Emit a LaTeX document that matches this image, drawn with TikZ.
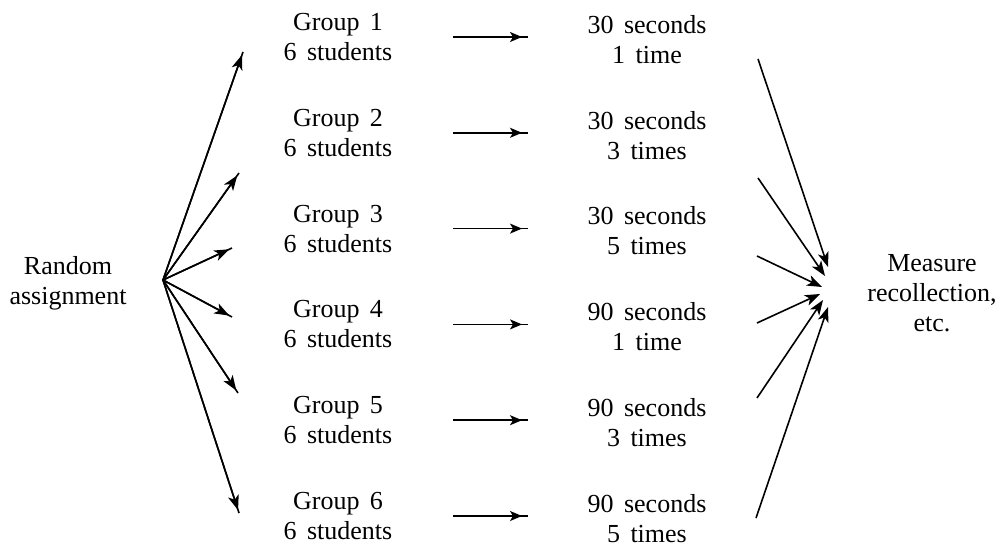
\documentclass[tikz,border=0pt]{standalone}
\usepackage{fontspec}
\setmainfont{Liberation Serif}[WordSpace=1.6]
\usetikzlibrary{arrows.meta}
\begin{document}
\begin{tikzpicture}[x=1pt,y=-1pt,
  lbl/.style={align=center, font=\fontsize{26}{30}\selectfont, inner sep=0pt},
  fanline/.style={line width=1.6pt},
  fanarr/.style={-{Stealth[length=15pt,width=11pt,inset=4pt]}, line width=1.6pt, shorten >=3pt},
  hline/.style={line width=1.5pt},
  harr/.style={-{Stealth[length=12pt,width=10pt,inset=3pt]}, line width=1.5pt, shorten >=6pt}]
\useasboundingbox (0,0) rectangle (1000,548);

% left and right labels
\node[lbl] (ra) at (68,283) {Random\\assignment};
\node[lbl] (mr) at (932,293) {Measure\\recollection,\\etc.};

% groups and treatments
\foreach \i/\tm [evaluate=\i as \yy using {37+95.8*(\i-1)}] in
  {1/{30 seconds\\1 time}, 2/{30 seconds\\3 times}, 3/{30 seconds\\5 times},
   4/{90 seconds\\1 time}, 5/{90 seconds\\3 times}, 6/{90 seconds\\5 times}} {
  \node[lbl] (g\i) at (338,\yy) {Group \i\\6 students};
  \node[lbl] (t\i) at (647,\yy+2.5) {\tm};
  \coordinate (hs\i) at (453,\yy);
  \coordinate (he\i) at (528,\yy);
  \draw[hline] (hs\i) -- (he\i);
  \draw[harr] (hs\i) -- (he\i);
}

% random assignment fan
\coordinate (split) at (163,280);
\coordinate (fe1) at (243,52);
\coordinate (fe2) at (239,173);
\coordinate (fe3) at (232,248);
\coordinate (fe4) at (232,317);
\coordinate (fe5) at (238,393);
\coordinate (fe6) at (239,513);
\foreach \i in {1,...,6} {
  \draw[fanline] (split) -- (fe\i);
  \draw[fanarr] (split) -- (fe\i);
}

% arrows converging on the measurement
\coordinate (ms1) at (758,59);
\coordinate (ms2) at (758,178);
\coordinate (ms3) at (757,256);
\coordinate (ms4) at (757,323);
\coordinate (ms5) at (757,398);
\coordinate (ms6) at (756,518);
\coordinate (me1) at (828,267);
\coordinate (me2) at (825,276);
\coordinate (me3) at (822,287);
\coordinate (me4) at (820,294);
\coordinate (me5) at (823,300);
\coordinate (me6) at (828,307);
\foreach \i in {1,...,6} \draw[fanarr, shorten >=0pt] (ms\i) -- (me\i);
\end{tikzpicture}
\end{document}
